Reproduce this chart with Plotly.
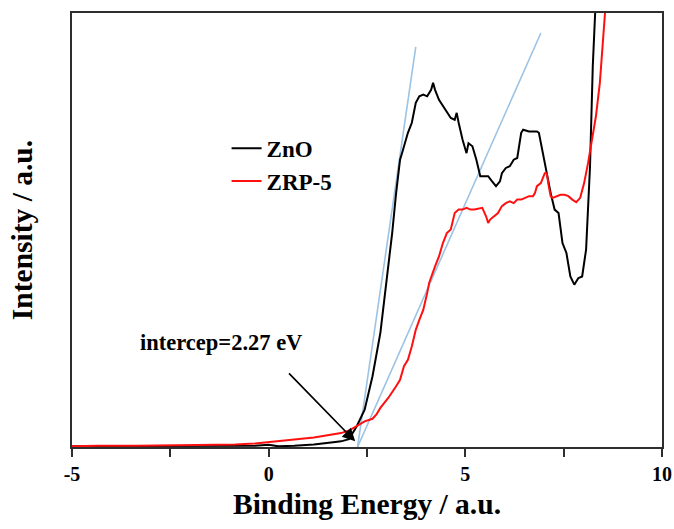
import plotly.graph_objects as go

# ---- data ----
zno_x = [-5, -4, -3, -2, -1, -0.35, 0, 0.25, 0.65, 1.15, 1.64, 1.84, 2.04, 2.14, 2.24,
         2.44, 2.64, 2.84, 2.94, 3.04, 3.14, 3.24, 3.34, 3.39, 3.54, 3.64, 3.74, 3.83, 3.93, 4.03,
         4.13, 4.18, 4.23, 4.33, 4.43, 4.53, 4.63, 4.73, 4.78, 4.83, 4.93, 5.03, 5.08, 5.18, 5.28,
         5.38, 5.48, 5.58, 5.68, 5.78, 5.88, 5.93, 6.03, 6.13, 6.23, 6.32, 6.42, 6.47, 6.62, 6.72,
         6.82, 6.87, 6.97, 7.07, 7.17, 7.27, 7.37, 7.47, 7.57, 7.67, 7.77, 7.87, 7.97, 8.07, 8.17,
         8.24, 8.30, 8.33]
zno_y = [0.2, 0.2, 0.2, 0.2, 0.2, 0.3, 0.5, 0.15, 0.3, 0.6, 1.1, 1.3, 1.8, 3.2, 4.8,
         8.6, 16.3, 26.3, 33.9, 41.6, 49.3, 58.5, 66.2, 67.7, 72.4, 74.7, 79.3, 80.8, 81.2, 80.8,
         82.3, 83.9, 82.3, 80.0, 78.5, 77.0, 75.8, 75.4, 77.0, 74.7, 70.8, 67.7, 70.0, 69.3, 66.2,
         62.4, 62.4, 62.4, 61.2, 60.1, 61.2, 63.1, 64.3, 64.7, 66.2, 66.6, 72.4, 73.1, 72.7, 72.7,
         72.7, 72.4, 67.7, 63.1, 58.5, 54.7, 53.9, 47.0, 44.7, 39.3, 37.4, 38.9, 39.3, 45.5, 64.7,
         87.7, 100, 106]

zrp_x = [-5, -4.33, -3.34, -2.34, -1.34, -0.85, -0.35, 0, 0.25, 0.65, 1.15, 1.64, 1.84, 2.04, 2.24,
         2.44, 2.64, 2.74, 2.84, 3.04, 3.24, 3.34, 3.44, 3.54, 3.64, 3.74, 3.83, 3.93, 4.03, 4.08,
         4.23, 4.33, 4.43, 4.53, 4.63, 4.73, 4.83, 4.93, 5.03, 5.13, 5.23, 5.43, 5.53, 5.58, 5.63,
         5.73, 5.83, 5.93, 6.03, 6.13, 6.23, 6.32, 6.42, 6.52, 6.62, 6.72, 6.77, 6.82, 6.92, 7.02,
         7.07, 7.12, 7.17, 7.22, 7.32, 7.42, 7.52, 7.62, 7.72, 7.82, 7.92, 8.02, 8.12, 8.22, 8.32,
         8.42, 8.52, 8.57, 8.60]
zrp_y = [0.15, 0.3, 0.3, 0.4, 0.5, 0.6, 0.8, 1.1, 1.2, 1.7, 2.2, 2.8, 3.2, 3.8, 4.8,
         5.9, 6.5, 7.5, 9.0, 11.3, 14.0, 15.5, 18.6, 20.1, 23.2, 27.0, 29.3, 31.6, 35.5, 37.8,
         41.6, 43.9, 47.0, 49.3, 50.1, 53.9, 54.7, 54.7, 55.1, 54.7, 54.7, 55.1, 53.1, 51.6, 52.4,
         53.1, 53.9, 55.5, 56.2, 56.6, 56.2, 57.0, 57.0, 57.4, 57.8, 57.8, 58.5, 60.1, 60.8, 63.1,
         63.1, 60.1, 57.8, 57.4, 57.8, 58.1, 58.1, 57.8, 57.0, 56.4, 57.4, 60.8, 65.4, 70.8, 76.2,
         83.9, 95.4, 100, 106]

tangent1_x = [2.26, 3.74]
tangent1_y = [0, 92.2]
tangent2_x = [2.26, 6.92]
tangent2_y = [0, 95.4]

arrow_tail = (0.48, 17.3)
arrow_head = (2.2, 1.3)
annot_text = "intercep=2.27 eV"
annot_pos = (-1.2, 24.0)

x_ticks = [-5, 0, 5, 10]
x_tick_labels = ["-5", "0", "5", "10"]
x_minor_ticks = [-2.5, 2.5, 7.5]

FONT = "Liberation Serif"
LINE_COL = "#2e2e2e"

fig = go.Figure()
fig.add_trace(go.Scatter(x=tangent1_x, y=tangent1_y, mode="lines",
                         line=dict(color="#9cc3e4", width=1.6), showlegend=False, hoverinfo="skip"))
fig.add_trace(go.Scatter(x=tangent2_x, y=tangent2_y, mode="lines",
                         line=dict(color="#9cc3e4", width=1.6), showlegend=False, hoverinfo="skip"))
fig.add_trace(go.Scatter(x=zno_x, y=zno_y, mode="lines", name="ZnO",
                         line=dict(color="black", width=2)))
fig.add_trace(go.Scatter(x=zrp_x, y=zrp_y, mode="lines", name="ZRP-5",
                         line=dict(color="#ff1010", width=2)))

fig.add_annotation(x=arrow_head[0], y=arrow_head[1], ax=arrow_tail[0], ay=arrow_tail[1],
                   xref="x", yref="y", axref="x", ayref="y", text="",
                   showarrow=True, arrowhead=2, arrowsize=1.5, arrowwidth=1.7, arrowcolor="black")
fig.add_annotation(x=annot_pos[0], y=annot_pos[1], xref="x", yref="y", text=annot_text,
                   showarrow=False, xanchor="center", yanchor="middle",
                   font=dict(family=FONT, size=22.5, color="black", weight="bold"))

fig.update_layout(
    width=674, height=529,
    margin=dict(l=72, r=12, t=13, b=82),
    paper_bgcolor="white", plot_bgcolor="white",
    legend=dict(x=0.262, y=0.738, xanchor="left", yanchor="top",
                bgcolor="rgba(0,0,0,0)", borderwidth=0,
                font=dict(family=FONT, size=23, color="black", weight="bold"),
                tracegroupgap=0),
)
fig.update_xaxes(
    range=[-5, 10], tickvals=x_ticks, ticktext=x_tick_labels, automargin=False,
    ticks="outside", ticklen=8, tickwidth=1.5, tickcolor=LINE_COL,
    minor=dict(tickvals=x_minor_ticks, ticks="outside", ticklen=8, tickwidth=1.5, tickcolor=LINE_COL),
    showline=True, linecolor=LINE_COL, linewidth=1.5, mirror=True,
    showgrid=False, zeroline=False,
    tickfont=dict(family=FONT, size=20, color="black", weight="bold"),
    title=dict(text="Binding Energy / a.u.", standoff=10,
               font=dict(family=FONT, size=29.5, color="black", weight="bold")),
)
fig.update_yaxes(
    range=[0, 100], showticklabels=False, ticks="", automargin=False,
    showline=True, linecolor=LINE_COL, linewidth=1.5, mirror=True,
    showgrid=False, zeroline=False,
    title=dict(text="Intensity / a.u.", standoff=29,
               font=dict(family=FONT, size=29.5, color="black", weight="bold")),
)

fig.write_html("out.html")
